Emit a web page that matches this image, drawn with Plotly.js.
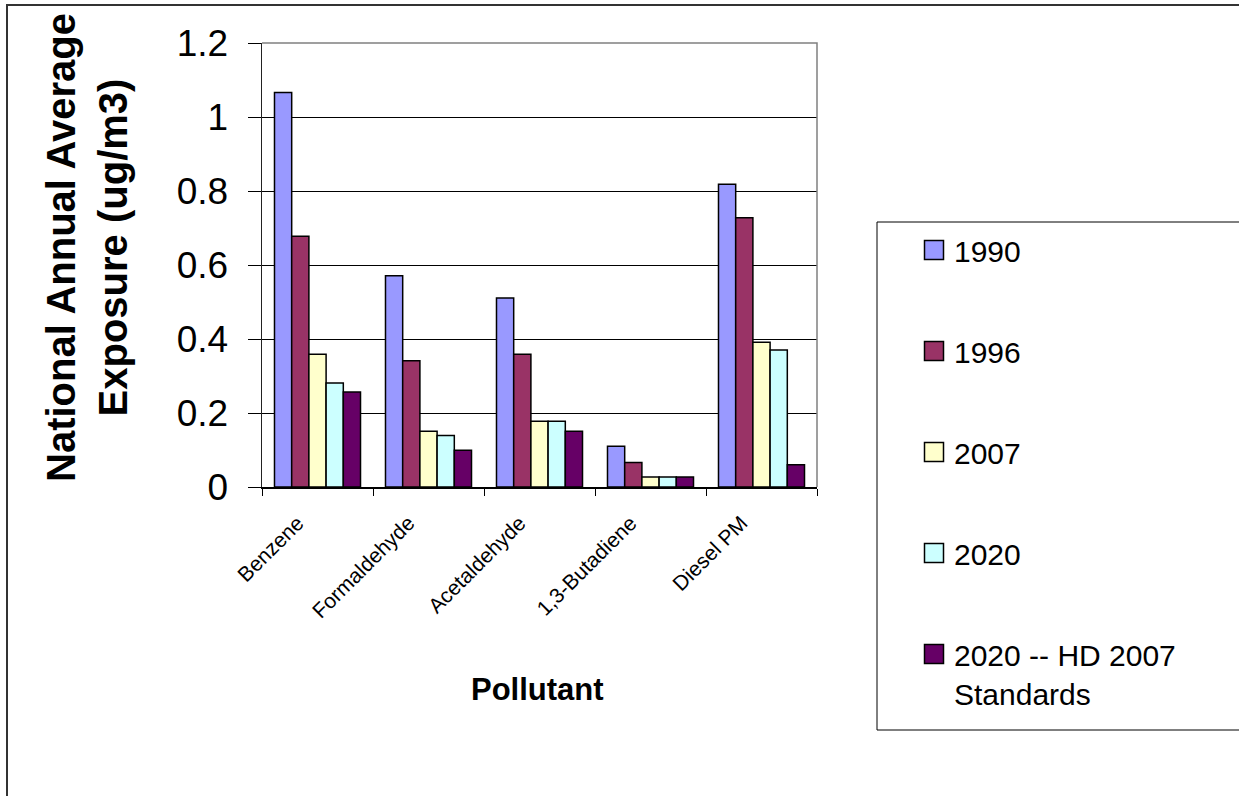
<!DOCTYPE html>
<html>
<head>
<meta charset="utf-8">
<script src="https://cdn.plot.ly/plotly-3.0.1.min.js"></script>
<style>
  html, body { margin: 0; padding: 0; background: #fff; overflow: hidden; }
  #chart { width: 1239px; height: 796px; }
</style>
</head>
<body>
<div id="chart"></div>
<script>
// Pollutant categories along the x axis
const categories = ['Benzene', 'Formaldehyde', 'Acetaldehyde', '1,3-Butadiene', 'Diesel PM'];

// National annual average exposure (ug/m3) for each scenario
const exp1990   = [1.066, 0.571, 0.511, 0.110, 0.818];
const exp1996   = [0.678, 0.341, 0.359, 0.066, 0.728];
const exp2007   = [0.359, 0.151, 0.178, 0.027, 0.391];
const exp2020   = [0.281, 0.139, 0.178, 0.027, 0.370];
const exp2020HD = [0.257, 0.099, 0.151, 0.027, 0.060];

const seriesNames = ['1990', '1996', '2007', '2020', '2020 -- HD 2007<br>Standards'];
const seriesValues = [exp1990, exp1996, exp2007, exp2020, exp2020HD];
const seriesColors = ['#9999FF', '#993366', '#FFFFCC', '#CCFFFF', '#660066'];

const yTicks = [0, 0.2, 0.4, 0.6, 0.8, 1, 1.2];

const FONT = 'Liberation Sans, Arial, sans-serif';

const traces = seriesValues.map((vals, i) => ({
  type: 'bar',
  name: seriesNames[i],
  x: categories,
  y: vals,
  legendgroup: 'g' + i,
  marker: { color: seriesColors[i], line: { color: '#000', width: 1.5 } },
  hoverinfo: 'x+y+name'
}));

// Plot area: x 262..817 px, y 43..487 px
const L = 262, R = 817, T = 43, B = 487;
const px = v => (v - L) / (R - L);
const py = v => (B - v) / (B - T);

const layout = {
  width: 1239,
  height: 796,
  margin: { l: L, r: 1239 - R, t: T, b: 796 - B, pad: 0 },
  paper_bgcolor: '#fff',
  plot_bgcolor: '#fff',
  font: { family: FONT, color: '#000' },
  barmode: 'group',
  bargap: 0.225,
  bargroupgap: 0,
  showlegend: true,
  legend: {
    x: px(914), xanchor: 'left',
    y: py(224), yanchor: 'top',
    font: { family: FONT, size: 30, color: '#000' },
    bgcolor: 'rgba(0,0,0,0)',
    borderwidth: 0,
    tracegroupgap: 59,
    traceorder: 'grouped',
    valign: 'top',
    maxheight: 700
  },
  xaxis: {
    type: 'category',
    tickson: 'boundaries',
    ticks: 'outside',
    ticklen: 7,
    tickcolor: '#000',
    tickwidth: 1,
    tickangle: -45,
    tickfont: { family: FONT, size: 21, color: '#000' },
    ticklabelstandoff: 14,
    ticklabelshift: -20,
    showline: true,
    linecolor: '#000',
    linewidth: 1.5,
    showgrid: false,
    zeroline: false,
    fixedrange: true
  },
  yaxis: {
    range: [0, 1.2],
    tickvals: yTicks,
    ticktext: yTicks.map(String),
    ticks: 'outside',
    ticklen: 13,
    tickcolor: '#000',
    tickwidth: 1,
    tickfont: { family: FONT, size: 37, color: '#000' },
    ticklabelstandoff: 12,
    showline: true,
    linecolor: '#222',
    linewidth: 1.5,
    showgrid: true,
    gridcolor: '#000',
    gridwidth: 1,
    zeroline: false,
    fixedrange: true
  },
  annotations: [
    {
      text: '<b>National Annual Average<br>Exposure (ug/m3)</b>',
      xref: 'paper', yref: 'paper',
      x: px(87), y: py(248),
      xanchor: 'center', yanchor: 'middle',
      textangle: -90,
      showarrow: false,
      font: { family: FONT, size: 40, color: '#000' }
    },
    {
      text: '<b>Pollutant</b>',
      xref: 'paper', yref: 'paper',
      x: px(537), y: py(689),
      xanchor: 'center', yanchor: 'middle',
      showarrow: false,
      font: { family: FONT, size: 31, color: '#000' }
    }
  ],
  shapes: [
    // gray frame on the top and right of the plot area
    {
      type: 'path', xref: 'paper', yref: 'paper', layer: 'above',
      path: 'M0,1 L1,1 L1,0',
      line: { color: '#808080', width: 1.5 }
    },
    // legend box
    {
      type: 'rect', xref: 'paper', yref: 'paper', layer: 'below',
      x0: px(877), x1: px(1260), y0: py(730), y1: py(222),
      line: { color: '#000', width: 1 }
    },
    // outer chart border (left and top edges)
    {
      type: 'path', xref: 'paper', yref: 'paper', layer: 'above',
      path: 'M' + px(7) + ',' + py(810) + ' L' + px(7) + ',' + py(5) + ' L' + px(1260) + ',' + py(5),
      line: { color: '#333', width: 2 }
    }
  ]
};

Plotly.newPlot('chart', traces, layout, { displayModeBar: false, staticPlot: true }).then(() => {
  // larger legend swatches
  document.querySelectorAll('.legend .legendpoints path').forEach(p => {
    p.setAttribute('d', 'M9.5,9.5H-9.5V-9.5H9.5Z');
  });
});
</script>
</body>
</html>
